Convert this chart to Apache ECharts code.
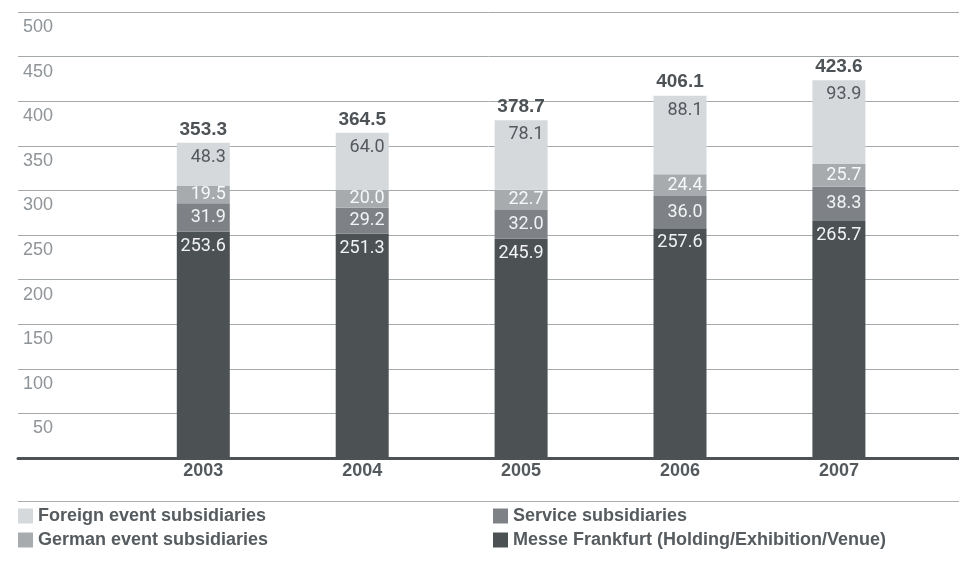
<!DOCTYPE html>
<html>
<head>
<meta charset="utf-8">
<script src="https://cdn.jsdelivr.net/npm/echarts@6/dist/echarts.min.js"></script>
<style>html,body{margin:0;padding:0;background:#fff;}#c{width:959px;height:562px;}</style>
</head>
<body>
<div id="c"></div>
<script>
var categories = ['2003', '2004', '2005', '2006', '2007'];
var messe = [253.6, 251.3, 245.9, 257.6, 265.7];
var service = [31.9, 29.2, 32.0, 36.0, 38.3];
var german = [19.5, 20.0, 22.7, 24.4, 25.7];
var foreign = [48.3, 64.0, 78.1, 88.1, 93.9];
var totals = [353.3, 364.5, 378.7, 406.1, 423.6];
var yTicks = [0, 50, 100, 150, 200, 250, 300, 350, 400, 450, 500];

var names = {
  foreign: 'Foreign event subsidiaries',
  german: 'German event subsidiaries',
  service: 'Service subsidiaries',
  messe: 'Messe Frankfurt (Holding/Exhibition/Venue)'
};
var colors = { foreign: '#d5d9dc', german: '#a7abae', service: '#7e8286', messe: '#4c5154' };

var fmt = function (p) { return p.value.toFixed(1); };
var BW = 53;

function seg(name, data, color, pos, txtColor) {
  return {
    name: name, type: 'bar', stack: 's', xAxisIndex: 1, yAxisIndex: 1,
    data: data, barWidth: BW, barGap: '-100%',
    itemStyle: { color: color },
    label: {
      show: true, position: pos, distance: 4, formatter: fmt,
      fontFamily: 'Roboto', fontSize: 18, lineHeight: 21, color: txtColor
    },
    emphasis: { disabled: true }
  };
}

var legendText = { fontFamily: 'Liberation Sans', fontWeight: 'bold', fontSize: 18, lineHeight: 15, color: '#565b5f' };

var chart = echarts.init(document.getElementById('c'));
chart.setOption({
  animation: false,
  grid: [
    { left: 18, right: 0, top: 12, bottom: 104 },
    { left: 123.85, width: 794.5, top: 12, bottom: 104 }
  ],
  xAxis: [
    { type: 'category', gridIndex: 0, data: categories,
      axisLine: { show: true, lineStyle: { color: '#4d5255', width: 3 } },
      axisTick: { show: false }, axisLabel: { show: false } },
    { type: 'category', gridIndex: 1, data: categories,
      axisLine: { show: false }, axisTick: { show: false },
      axisLabel: { margin: 4, fontFamily: 'Liberation Sans', fontWeight: 'bold', fontSize: 18, color: '#54595d' } }
  ],
  yAxis: [
    { type: 'value', gridIndex: 0, min: yTicks[0], max: yTicks[yTicks.length - 1], interval: 50,
      axisLine: { show: false }, axisTick: { show: false },
      splitLine: { show: true, lineStyle: { color: '#a4a9ac', width: 1 } },
      axisLabel: { inside: true, align: 'right', verticalAlign: 'top', margin: 35, padding: [6, 0, 0, 0],
        fontFamily: 'Liberation Sans', fontSize: 18, color: '#8f9498',
        formatter: function (v) { return v === 0 ? '' : String(v); } } },
    { type: 'value', gridIndex: 1, min: yTicks[0], max: yTicks[yTicks.length - 1], interval: 50, show: false }
  ],
  legend: [
    { data: [names.foreign, names.german], orient: 'vertical', left: 18, top: 507, padding: 0,
      icon: 'rect', itemWidth: 15, itemHeight: 15, itemGap: 6, selectedMode: false, textStyle: legendText },
    { data: [names.service, names.messe], orient: 'vertical', left: 493, top: 507, padding: 0,
      icon: 'rect', itemWidth: 15, itemHeight: 15, itemGap: 6, selectedMode: false, textStyle: legendText }
  ],
  graphic: [
    { type: 'line', shape: { x1: 18, y1: 501.5, x2: 959, y2: 501.5 }, style: { stroke: '#a8adb0', lineWidth: 1.2 } }
  ],
  series: [
    seg(names.messe, messe, colors.messe, 'insideTopRight', '#f2f3f4'),
    seg(names.service, service, colors.service, 'insideRight', '#f2f3f4'),
    seg(names.german, german, colors.german, 'insideRight', '#f7f8f8'),
    seg(names.foreign, foreign, colors.foreign, 'insideTopRight', '#55595d'),
    { name: 'total', type: 'bar', xAxisIndex: 1, yAxisIndex: 1, data: totals, barWidth: BW, barGap: '-100%',
      itemStyle: { color: 'rgba(0,0,0,0)' }, z: 1,
      label: { show: true, position: 'top', distance: 4, formatter: fmt,
        fontFamily: 'Liberation Sans', fontWeight: 'bold', fontSize: 19, lineHeight: 19, color: '#4d5256' },
      emphasis: { disabled: true } }
  ]
});
</script>
</body>
</html>
